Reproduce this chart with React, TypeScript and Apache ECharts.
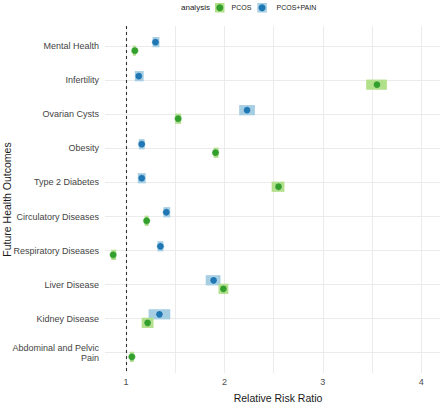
import React, { useEffect, useRef } from "react";
import * as echarts from "echarts";

const categories = [
  "Mental Health",
  "Infertility",
  "Ovarian Cysts",
  "Obesity",
  "Type 2 Diabetes",
  "Circulatory Diseases",
  "Respiratory Diseases",
  "Liver Disease",
  "Kidney Disease",
  "Abdominal and Pelvic\nPain",
];
const pcosRR = [1.09, 3.55, 1.53, 1.91, 2.55, 1.21, 0.87, 1.99, 1.22, 1.06];
const pcosLower = [1.07, 3.44, 1.5, 1.89, 2.48, 1.19, 0.85, 1.94, 1.16, 1.04];
const pcosUpper = [1.1, 3.65, 1.56, 1.94, 2.61, 1.23, 0.9, 2.04, 1.28, 1.08];
const painRR = [1.3, 1.13, 2.23, 1.16, 1.16, 1.41, 1.35, 1.89, 1.34, null];
const painLower = [1.27, 1.09, 2.15, 1.13, 1.12, 1.38, 1.32, 1.81, 1.23, null];
const painUpper = [1.34, 1.18, 2.31, 1.19, 1.2, 1.45, 1.38, 1.96, 1.45, null];
const xTickLabels = [1, 2, 3, 4];
const seriesNames = ["PCOS", "PCOS+PAIN"];
const yTitle = "Future Health Outcomes";
const xTitle = "Relative Risk Ratio";
const legendTitle = "analysis";

const FONT = '"Liberation Sans", Arial, Helvetica, sans-serif';
const DARK = ["#33a02c", "#1f78b4"];
const LIGHT = ["#b2df8a", "#a6cee3"];

function makeRender(offset: number, light: string, dark: string) {
  return (params: any, api: any) => {
    const lo = api.value(0);
    const hi = api.value(1);
    const rr = api.value(2);
    const idx = api.value(3);
    const yc = idx + offset;
    const pLo = api.coord([lo, yc]);
    const pHi = api.coord([hi, yc]);
    const p = api.coord([rr, yc]);
    const h = Math.abs(api.size([0, 0.3])[1]);
    return {
      type: "group",
      children: [
        {
          type: "rect",
          shape: { x: pLo[0], y: pLo[1] - h / 2, width: pHi[0] - pLo[0], height: h },
          style: { fill: light },
        },
        {
          type: "circle",
          shape: { cx: p[0], cy: p[1], r: 3.6 },
          style: { fill: dark, stroke: "rgba(255,255,255,0.35)", lineWidth: 0.8 },
        },
      ],
    };
  };
}

export default function App() {
  const ref = useRef<HTMLDivElement>(null);
  useEffect(() => {
    if (!ref.current) return;
    const chart = echarts.init(ref.current, undefined, { renderer: "svg" });

    const pcosData = categories.map((_, i) => [pcosLower[i], pcosUpper[i], pcosRR[i], i]);
    const painData = categories
      .map((_, i) => [painLower[i], painUpper[i], painRR[i], i])
      .filter((d) => d[2] !== null);

    const option: any = {
      animation: false,
      textStyle: { fontFamily: FONT },
      grid: {
        left: 105,
        right: 0,
        top: 26,
        bottom: 31,
        containLabel: false,
        outerBoundsMode: "none",
      },
      xAxis: {
        type: "value",
        min: 0.787,
        max: 4.19,
        minInterval: 0.5,
        maxInterval: 0.5,
        name: xTitle,
        nameLocation: "middle",
        nameGap: 19,
        nameMoveOverlap: false,
        nameTextStyle: { fontSize: 10.5, color: "#1a1a1a", fontFamily: FONT, padding: [0, 0, 0, 11] },
        axisLine: { show: false },
        axisTick: { show: false },
        axisLabel: {
          fontSize: 9,
          color: "#4d4d4d",
          fontFamily: FONT,
          margin: 4,
          showMinLabel: false,
          showMaxLabel: false,
          formatter: (v: number) => {
            const r = Math.round(v * 1000) / 1000;
            return xTickLabels.includes(r) ? String(r) : "";
          },
        },
        splitLine: {
          show: true,
          showMinLine: false,
          showMaxLine: false,
          lineStyle: { color: "#ebebeb", width: 1 },
        },
      },
      yAxis: {
        type: "value",
        inverse: true,
        min: -0.6,
        max: categories.length - 1 + 0.6,
        minInterval: 1,
        maxInterval: 1,
        axisLine: { show: false },
        axisTick: { show: false },
        axisLabel: {
          fontSize: 9,
          color: "#444",
          fontFamily: FONT,
          margin: 6,
          lineHeight: 10,
          align: "right",
          showMinLabel: false,
          showMaxLabel: false,
          formatter: (v: number) => {
            const r = Math.round(v * 1000) / 1000;
            return Number.isInteger(r) && r >= 0 && r < categories.length ? categories[r] : "";
          },
        },
        splitLine: {
          show: true,
          showMinLine: false,
          showMaxLine: false,
          lineStyle: { color: "#ebebeb", width: 1 },
        },
      },
      graphic: [
        {
          type: "text",
          x: 6.5,
          y: 199.5,
          rotation: Math.PI / 2,
          style: {
            text: yTitle,
            fontSize: 10.5,
            fontFamily: FONT,
            fill: "#1a1a1a",
            align: "center",
            verticalAlign: "middle",
          },
        },
        {
          type: "text",
          x: 181,
          y: 7.5,
          style: { text: legendTitle, fontSize: 8, fontFamily: FONT, fill: "#1a1a1a", verticalAlign: "middle" },
        },
        { type: "rect", shape: { x: 215, y: 3, width: 9.5, height: 9.5 }, style: { fill: LIGHT[0] } },
        { type: "circle", shape: { cx: 219.75, cy: 7.75, r: 3.5 }, style: { fill: DARK[0] } },
        {
          type: "text",
          x: 231.5,
          y: 7.5,
          style: { text: seriesNames[0], fontSize: 7, fontFamily: FONT, fill: "#1a1a1a", verticalAlign: "middle" },
        },
        { type: "rect", shape: { x: 257.3, y: 3, width: 9.5, height: 9.5 }, style: { fill: LIGHT[1] } },
        { type: "circle", shape: { cx: 262.05, cy: 7.75, r: 3.5 }, style: { fill: DARK[1] } },
        {
          type: "text",
          x: 276.5,
          y: 7.5,
          style: { text: seriesNames[1], fontSize: 7, fontFamily: FONT, fill: "#1a1a1a", verticalAlign: "middle" },
        },
      ],
      series: [
        {
          type: "line",
          data: [],
          silent: true,
          markLine: {
            silent: true,
            symbol: "none",
            label: { show: false },
            lineStyle: { color: "#333", type: [3, 3], width: 1.1 },
            data: [{ xAxis: 1 }],
          },
        },
        {
          name: seriesNames[1],
          type: "custom",
          renderItem: makeRender(-0.125, LIGHT[1], DARK[1]),
          encode: { x: [0, 1, 2], y: 3 },
          data: painData,
          z: 3,
        },
        {
          name: seriesNames[0],
          type: "custom",
          renderItem: makeRender(0.125, LIGHT[0], DARK[0]),
          encode: { x: [0, 1, 2], y: 3 },
          data: pcosData,
          z: 3,
        },
      ],
    };
    chart.setOption(option);
    return () => chart.dispose();
  }, []);
  return (
    <div
      ref={ref}
      style={{ position: "fixed", left: 0, top: 0, width: 440, height: 404, background: "#fff" }}
    />
  );
}
